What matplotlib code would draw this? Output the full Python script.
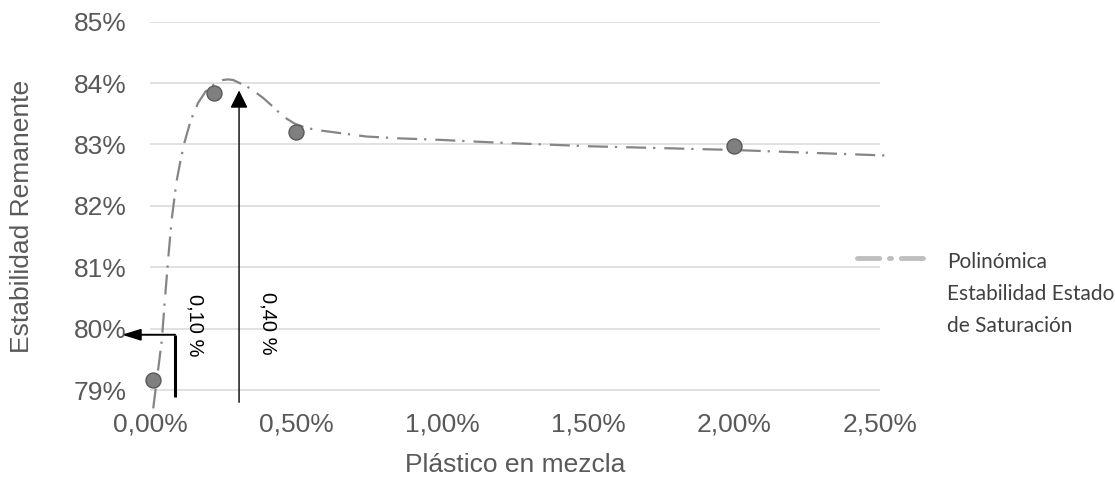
import matplotlib
matplotlib.use("Agg")
import matplotlib.pyplot as plt
from matplotlib.lines import Line2D

plt.rcParams['lines.scale_dashes'] = False

# Data (percent units)
point_x = [0.01, 0.22, 0.50, 2.00]
point_y = [79.17, 83.84, 83.20, 82.98]

trend_x = [0.011, 0.040, 0.051, 0.062, 0.074, 0.091, 0.105, 0.119, 0.140, 0.165,
           0.190, 0.211, 0.230, 0.250, 0.267, 0.285, 0.307, 0.330, 0.350, 0.387,
           0.420, 0.455, 0.495, 0.535, 0.58, 0.66, 0.74, 0.85, 0.97, 1.19, 1.51,
           2.0, 2.52]
trend_y = [78.70, 79.79, 80.47, 81.12, 81.77, 82.40, 82.75, 83.05, 83.40, 83.68,
           83.86, 83.95, 84.01, 84.05, 84.06, 84.05, 84.00, 83.95, 83.89, 83.76,
           83.62, 83.46, 83.34, 83.27, 83.23, 83.18, 83.13, 83.10, 83.08, 83.03,
           82.97, 82.91, 82.82]

x_ticks = [0.0, 0.5, 1.0, 1.5, 2.0, 2.5]
x_tick_labels = ["0,00%", "0,50%", "1,00%", "1,50%", "2,00%", "2,50%"]
y_ticks = [79, 80, 81, 82, 83, 84, 85]
y_tick_labels = ["79%", "80%", "81%", "82%", "83%", "84%", "85%"]

arrow_main_x = 0.305
arrow_main_y = (78.80, 83.88)
bracket_x = 0.086
bracket_y = (78.886, 79.90)
bracket_tip_x = -0.096

W, H = 1115, 482
fig = plt.figure(figsize=(W / 100, H / 100), dpi=100)
left, right, top, bottom = 150, 880, 21.7, 408
ax = fig.add_axes([left / W, 1 - bottom / H, (right - left) / W, (bottom - top) / H])

ax.set_xlim(0, 2.5)
ax.set_ylim(79 - (bottom - 390) / 61.4, 85)

FONT = ['Liberation Sans', 'DejaVu Sans']
gray_txt = '#595959'

ax.set_xticks(x_ticks)
ax.set_xticklabels(x_tick_labels, fontsize=19, color=gray_txt, family=FONT)
ax.set_yticks(y_ticks)
ax.set_yticklabels(y_tick_labels, fontsize=19, color=gray_txt, family=FONT)
ax.tick_params(axis='both', length=0)
ax.tick_params(axis='x', pad=3)
ax.tick_params(axis='y', pad=16.5)
for s in ax.spines.values():
    s.set_visible(False)
ax.grid(axis='y', color='#d9d9d9', lw=1.1)
ax.set_axisbelow(True)

# trend line
ax.plot(trend_x, trend_y, color='#858585', lw=1.6,
        dashes=(14.4, 5.0, 1.6, 6.5), clip_on=False, zorder=2,
        solid_joinstyle='round', dash_joinstyle='round')

# points
ax.plot(point_x, point_y, 'o', ms=10.8, mfc='#7f7f7f', mec='#595959', mew=1.0,
        zorder=3, clip_on=False)

# main vertical arrow
ax.annotate('', xy=(arrow_main_x, arrow_main_y[1]), xytext=(arrow_main_x, arrow_main_y[0]),
            arrowprops=dict(arrowstyle='-|>', mutation_scale=27, lw=1.0, color='black',
                            shrinkA=0, shrinkB=0), annotation_clip=False, zorder=4)

# bracket for 0,10 %
ax.plot([bracket_x, bracket_x], [bracket_y[0], bracket_y[1]], color='black', lw=2.2,
        solid_capstyle='butt', clip_on=False, zorder=4)
ax.annotate('', xy=(bracket_tip_x, bracket_y[1]), xytext=(bracket_x, bracket_y[1]),
            arrowprops=dict(arrowstyle='-|>,head_length=0.8,head_width=0.25',
                            mutation_scale=14, lw=1.4, color='black',
                            shrinkA=0, shrinkB=0), annotation_clip=False, zorder=4)

ax.text(0.154, 80.06, "0,10 %", rotation=270, ha='center', va='center',
        fontsize=14.5, color='black', family=FONT)
ax.text(0.404, 80.08, "0,40 %", rotation=270, ha='center', va='center',
        fontsize=14.5, color='black', family=FONT)

# axis labels
fig.text(22 / W, 1 - 216 / H, "Estabilidad Remanente", rotation=90, ha='center', va='center',
         fontsize=19, color=gray_txt, family=FONT)
fig.text(515 / W, 1 - 465 / H, "Plástico en mezcla", ha='center', va='center',
         fontsize=19, color=gray_txt, family=FONT)

# legend (manual)
leg_y = 1 - 258 / H
fig.add_artist(Line2D([857 / W, 928 / W], [leg_y, leg_y], transform=fig.transFigure,
                      color='#bfbfbf', lw=3.5, dashes=(16, 7, 1.5, 7),
                      solid_capstyle='round', dash_capstyle='round'))
LEGFONT = ['Lato', 'DejaVu Sans']
for txt, yb in [("Polinómica", 268), ("Estabilidad Estado", 300), ("de Saturación", 332)]:
    fig.text(947 / W, 1 - yb / H, txt, ha='left', va='baseline', fontsize=15,
             color='#404040', family=LEGFONT)

fig.savefig("out.png", dpi=100)
